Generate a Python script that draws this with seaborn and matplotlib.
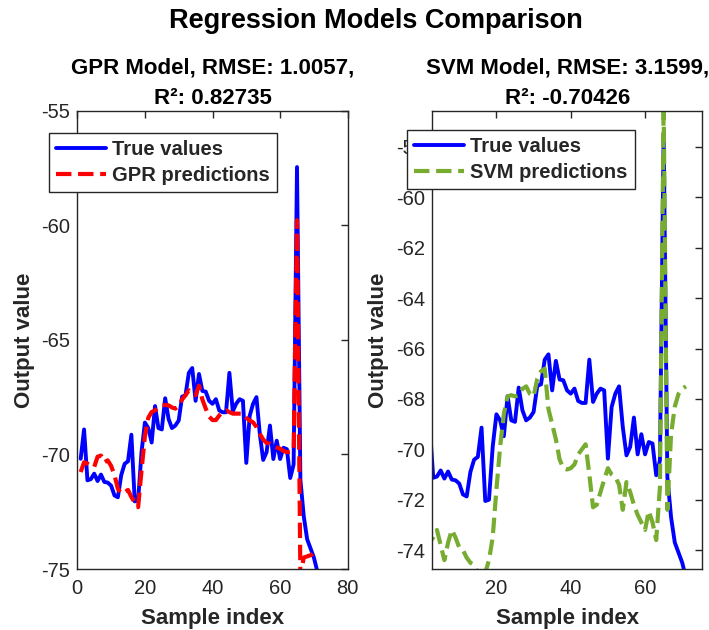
import matplotlib
matplotlib.use('Agg')
import matplotlib.pyplot as plt
import numpy as np
import seaborn as sns

sns.set_style('white')
plt.rcParams['font.family'] = ['Liberation Sans', 'DejaVu Sans']
plt.rcParams['axes.unicode_minus'] = False

# sample index 1..71
sample_idx = list(range(1, 72))

true_vals = [-70.19, -68.91, -71.13, -71.08, -70.84, -71.16, -70.88, -71.20, -71.23, -71.36,
             -71.79, -71.87, -70.90, -70.41, -70.30, -69.14, -72.05, -72.00, -69.90, -68.61,
             -68.85, -69.48, -67.89, -68.85, -68.91, -67.55, -68.45, -68.85, -68.74, -68.52,
             -67.48, -67.42, -66.44, -66.23, -67.66, -66.49, -67.23, -67.26, -67.66, -67.79,
             -67.59, -68.08, -68.16, -68.16, -66.44, -68.12, -67.79, -67.59, -67.66, -70.37,
             -68.32, -67.79, -67.50, -69.11, -70.24, -69.90, -68.74, -70.20, -69.40, -70.20,
             -69.71, -69.77, -71.03, -70.44, -57.46, -71.10, -72.70, -73.70, -74.10, -74.50,
             -75.10]

gpr_pred = [-70.77, -70.34, -70.40, -70.50, -70.55, -70.10, -70.05, -70.34, -70.26, -70.50,
            -70.90, -71.50, -71.70, -71.65, -71.55, -71.86, -72.10, -72.30, -70.70, -69.20,
            -68.40, -68.15, -68.08, -67.95, -67.86, -67.84, -67.86, -67.95, -68.00, -67.90,
            -67.60, -67.42, -67.20, -67.30, -67.42, -67.00, -67.60, -68.00, -68.35, -68.50,
            -68.50, -68.30, -68.15, -68.08, -68.15, -68.22, -68.22, -68.22, -68.22, -68.40,
            -68.52, -68.60, -68.80, -69.10, -69.35, -69.50, -69.53, -69.65, -69.70, -69.75,
            -69.85, -69.90, -69.88, -69.83, -59.78, -75.30, -74.50, -74.45, -74.40, -74.30,
            -74.30]

svm_pred = [-74.00, -73.70, -73.50, -73.20, -73.80, -74.40, -73.70, -73.20, -73.50, -73.90,
            -74.00, -74.30, -74.50, -74.60, -74.90, -75.30, -74.90, -74.40, -73.50, -71.60,
            -69.90, -68.60, -67.90, -67.85, -67.90, -67.85, -67.60, -67.50, -67.80, -67.90,
            -67.20, -66.90, -66.80, -68.40, -69.00, -69.60, -70.40, -70.75, -70.80, -70.75,
            -70.60, -70.20, -70.00, -69.80, -71.00, -72.30, -72.20, -71.70, -71.20, -70.75,
            -71.00, -71.10, -71.40, -72.40, -71.30, -71.70, -72.20, -72.60, -72.90, -73.20,
            -72.45, -72.90, -73.60, -71.50, -56.30, -72.40, -69.40, -68.30, -67.80, -67.60,
            -67.50]

gpr_title = 'GPR Model, RMSE: 1.0057,\nR²: 0.82735'
svm_title = 'SVM Model, RMSE: 3.1599,\nR²: -0.70426'

W, H = 709, 630
fig = plt.figure(figsize=(W / 100, H / 100), dpi=100)

ax1 = fig.add_axes([77.3 / W, 1 - 569 / H, 270.4 / W, 458.3 / H])
ax2 = fig.add_axes([432.3 / W, 1 - 569 / H, 270.0 / W, 458.3 / H])

dark = '#262626'
green = '#77AC30'

sns.lineplot(x=sample_idx, y=true_vals, ax=ax1, color='blue', lw=2.8, label='True values')
sns.lineplot(x=sample_idx, y=gpr_pred, ax=ax1, color='red', lw=3, linestyle='--',
             label='GPR predictions')
sns.lineplot(x=sample_idx, y=true_vals, ax=ax2, color='blue', lw=2.8, label='True values')
sns.lineplot(x=sample_idx, y=svm_pred, ax=ax2, color=green, lw=3, linestyle='--',
             label='SVM predictions')

ax1.set_xlim(0, 80)
ax1.set_ylim(-75, -55)
ax1.set_xticks([0, 20, 40, 60, 80])
ax1.set_yticks([-75, -70, -65, -60, -55])

ax2.set_xlim(2.75, 75.4)
ax2.set_ylim(-74.75, -56.56)
ax2.set_xticks([20, 40, 60])
ax2.set_yticks(np.arange(-74, -57, 2))

for ax, title, lx, leg_xy in [(ax1, gpr_title, -0.155, (49 / W, 1 - 133 / H)),
                              (ax2, svm_title, -0.16, (406.7 / W, 1 - 130 / H))]:
    ax.set_title(title, fontsize=16, fontweight='bold', color='black', pad=5, linespacing=1.6)
    ax.set_xlabel('Sample index', fontsize=16, fontweight='bold', color=dark)
    ax.set_ylabel('Output value', fontsize=16, fontweight='bold', color=dark)
    ax.xaxis.set_label_coords(0.5, -0.085)
    ax.yaxis.set_label_coords(lx, 0.5)
    ax.tick_params(direction='in', top=True, right=True, length=5, width=1,
                   labelsize=14.5, colors=dark)
    ax.tick_params(axis='x', pad=7)
    ax.tick_params(axis='y', pad=5)
    for s in ax.spines.values():
        s.set_color(dark)
        s.set_linewidth(1)
    leg = ax.legend(loc='upper left', bbox_to_anchor=leg_xy, bbox_transform=fig.transFigure,
                    prop={'weight': 'bold', 'size': 14.5}, frameon=True, fancybox=False,
                    framealpha=1, edgecolor=dark, borderpad=0.35, labelspacing=0.35,
                    handlelength=2.5, handletextpad=0.3, borderaxespad=0)
    leg.get_frame().set_linewidth(1)

fig.text(376 / W, 1 - 21 / H, 'Regression Models Comparison', ha='center', va='center',
         fontsize=19.5, fontweight='bold', color='black')

plt.savefig('out.png', dpi=100)
